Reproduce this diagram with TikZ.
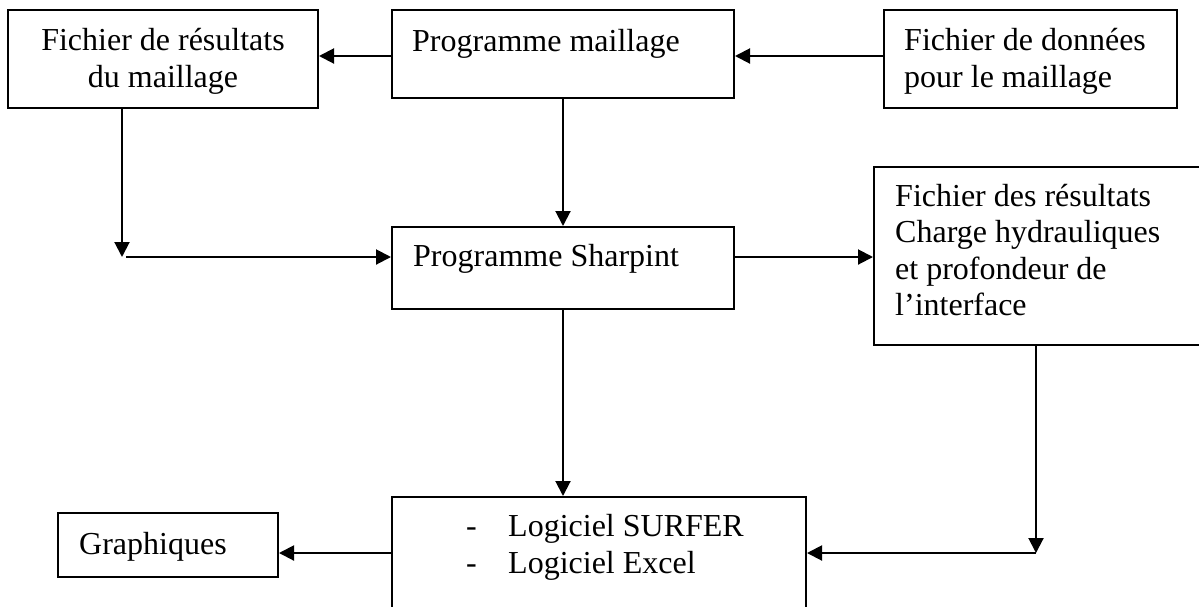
\documentclass[tikz,border=0pt]{standalone}
\usepackage{fontspec}
\setmainfont{Liberation Serif}
\usetikzlibrary{arrows.meta}
\begin{document}
\begin{tikzpicture}[x=1pt,y=-1pt,
  box/.style={draw, line width=2pt, inner sep=0pt},
  txt/.style={anchor=base west, inner sep=0pt, font=\fontsize{32}{37}\selectfont},
  arr/.style={line width=2pt, -{Triangle[length=15pt,width=15pt]}}]
\useasboundingbox (0,0) rectangle (1199,606);

% boxes
\node[box, minimum width=310pt, minimum height=98pt] (A) at (163,59) {};
\node[box, minimum width=342pt, minimum height=88pt] (B) at (563,54) {};
\node[box, minimum width=293pt, minimum height=98pt] (C) at (1030.5,59) {};
\node[box, minimum width=342pt, minimum height=82pt] (D) at (563,268) {};
\node[box, minimum width=330pt, minimum height=178pt] (E) at (1039,256) {};
\node[box, minimum width=414pt, minimum height=120pt] (F) at (599,557) {};
\node[box, minimum width=220pt, minimum height=64pt] (G) at (168,545) {};

% texts
\node[txt, anchor=base] (A1) at (163,50) {Fichier de résultats};
\node[txt, anchor=base] (A2) at (163,87) {du maillage};
\node[txt] (B1) at (412,51) {Programme maillage};
\node[txt] (C1) at (904,50) {Fichier de données};
\node[txt] (C2) at (904,87) {pour le maillage};
\node[txt] (D1) at (413,266) {Programme Sharpint};
\node[txt] (E1) at (895,206) {Fichier des résultats};
\node[txt] (E2) at (895,242.5) {Charge hydrauliques};
\node[txt] (E3) at (895,279) {et profondeur de};
\node[txt] (E4) at (895,315.5) {l’interface};
\node[txt] (F0) at (466,536) {-};
\node[txt] (F1) at (508,536) {Logiciel SURFER};
\node[txt] (F2) at (466,573) {-};
\node[txt] (F3) at (508,573) {Logiciel Excel};
\node[txt] (G1) at (79,554) {Graphiques};

% junction points
\coordinate (bw) at ([yshift=-2pt]B.west);
\coordinate (cw) at ([yshift=3pt]C.west);
\coordinate (k1) at (122,257);
\coordinate (k1s) at (126,257);
\coordinate (dr) at (734,257);
\coordinate (ebot) at (1036,345);
\coordinate (k2) at (1036,553);
\coordinate (fw) at (392,553);

% connectors
\draw[arr] (bw) -- (bw -| A.east);
\draw[arr] (cw) -- (cw -| B.east);
\draw[arr] (B.south) -- (D.north);
\draw[arr] (A.south -| k1) -- (k1);
\draw[arr] (k1s) -- (k1s -| D.west);
\draw[arr] (dr) -- (dr -| E.west);
\draw[arr] (D.south) -- (D.south |- F.north);
\draw[arr] (ebot) -- (k2);
\draw[arr] (k2) -- (k2 -| F.east);
\draw[arr] (fw) -- (fw -| G.east);
\end{tikzpicture}
\end{document}
